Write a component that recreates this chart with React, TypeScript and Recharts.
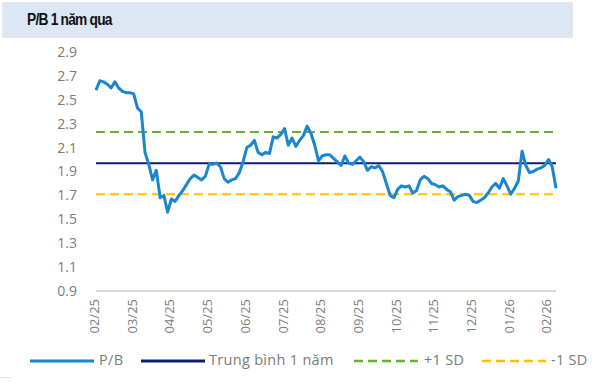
import * as React from 'react'
import { LineChart, Line, XAxis, YAxis, ReferenceLine } from 'recharts'

// P/B values, roughly two points per week, 02/2025 -> 02/2026
const pbValues = [
  2.58, 2.66, 2.65, 2.63, 2.60, 2.65, 2.60, 2.57, 2.56, 2.56,
  2.55, 2.43, 2.40, 2.06, 1.96, 1.83, 1.91, 1.68, 1.70, 1.56,
  1.67, 1.65, 1.70, 1.74, 1.79, 1.84, 1.87, 1.85, 1.83, 1.86,
  1.96, 1.96, 1.97, 1.94, 1.84, 1.81, 1.83, 1.84, 1.89, 1.98,
  2.10, 2.12, 2.16, 2.06, 2.04, 2.06, 2.05, 2.19, 2.18, 2.21,
  2.26, 2.12, 2.18, 2.11, 2.16, 2.20, 2.28, 2.22, 2.12, 1.99,
  2.03, 2.04, 2.04, 2.01, 1.98, 1.95, 2.03, 1.97, 1.96, 1.99,
  2.02, 1.98, 1.91, 1.94, 1.93, 1.95, 1.90, 1.80, 1.70, 1.68,
  1.75, 1.78, 1.77, 1.78, 1.72, 1.74, 1.83, 1.86, 1.84, 1.80,
  1.79, 1.77, 1.78, 1.75, 1.73, 1.66, 1.69, 1.70, 1.71, 1.70,
  1.65, 1.64, 1.66, 1.68, 1.72, 1.77, 1.80, 1.76, 1.84, 1.78,
  1.71, 1.76, 1.82, 2.07, 1.95, 1.89, 1.90, 1.92, 1.93, 1.95,
  2.00, 1.94, 1.76
]

const xTickIdx = [0, 10, 20, 30, 40, 50, 60, 70, 80, 90, 100, 110, 120]
const xTickLabels = ['02/25', '03/25', '04/25', '05/25', '06/25', '07/25', '08/25', '09/25', '10/25', '11/25', '12/25', '01/26', '02/26']
const yTicks = [0.9, 1.1, 1.3, 1.5, 1.7, 1.9, 2.1, 2.3, 2.5, 2.7, 2.9]

const AVG_1Y = 1.97
const PLUS_1SD = 2.23
const MINUS_1SD = 1.71

const C_PB = '#1a86cf'
const C_AVG = '#0d1f6b'
const C_UP = '#6aad3d'
const C_DOWN = '#ffc000'
const C_TEXT = '#7b7b7b'
const FONT = "'Open Sans', 'Noto Sans', sans-serif"

const rows = pbValues.map((v, i) => ({ i, pb: v }))

const XTick = ({ x, y, payload }: any) => {
  const k = xTickIdx.indexOf(payload.value)
  const tx = x - 2
  return (
    <text x={tx} y={y} transform={`rotate(-90 ${tx} ${y})`} textAnchor="end" dominantBaseline="central"
      fill={C_TEXT} fontSize={13} fontFamily={FONT}>
      {k >= 0 ? xTickLabels[k] : ''}
    </text>
  )
}

// legend: symbol start x, text start x
const legendItems = [
  { label: 'P/B', color: C_PB, dash: undefined, w: 3, x: 30, tx: 99 },
  { label: 'Trung bình 1 năm', color: C_AVG, dash: undefined, w: 3, x: 141, tx: 209 },
  { label: '+1 SD', color: C_UP, dash: '9 5', w: 2.5, x: 354, tx: 424 },
  { label: '-1 SD', color: C_DOWN, dash: '9 5', w: 2.5, x: 482, tx: 551 },
]

export default function App() {
  return (
    <div style={{ position: 'absolute', left: 0, top: 0, width: 599, height: 391, background: '#fff', overflow: 'hidden' }}>
      <div style={{ position: 'absolute', left: 2, top: 2, width: 571, height: 36, background: '#dce7f3' }} />
      <div style={{
        position: 'absolute', left: 27, top: 11, fontFamily: "'Liberation Sans', Arial, sans-serif",
        fontWeight: 700, fontSize: 16, letterSpacing: -0.9, color: '#111',
        transform: 'scaleX(0.86)', transformOrigin: 'left center', whiteSpace: 'nowrap'
      }}>P/B 1 năm qua</div>

      <div style={{ position: 'absolute', left: 0, top: 0 }}>
        <LineChart width={599} height={391} data={rows} margin={{ top: 52, right: 43, left: 0, bottom: 60 }}>
          <XAxis dataKey="i" type="number" domain={[0, 122]} ticks={xTickIdx} interval={0}
            tick={<XTick />} tickLine={false} axisLine={{ stroke: '#d9d9d9', strokeWidth: 2 }} height={40} />
          <YAxis type="number" domain={[0.9, 2.9]} ticks={yTicks} interval={0} width={96}
            tickFormatter={(v: number) => v.toFixed(1)} tickLine={false} axisLine={false} tickMargin={13}
            tick={{ fill: C_TEXT, fontSize: 14, fontFamily: FONT }} />
          <ReferenceLine y={PLUS_1SD} stroke={C_UP} strokeWidth={2} strokeDasharray="9 5" />
          <ReferenceLine y={MINUS_1SD} stroke={C_DOWN} strokeWidth={2} strokeDasharray="9 5" />
          <ReferenceLine y={AVG_1Y} stroke={C_AVG} strokeWidth={2} />
          <Line dataKey="pb" stroke={C_PB} strokeWidth={3} dot={false} isAnimationActive={false} strokeLinejoin="round" />
        </LineChart>
      </div>

      {legendItems.map(item => (
        <React.Fragment key={item.label}>
          <svg style={{ position: 'absolute', left: item.x, top: 358 }} width={64} height={6}>
            <line x1={0} y1={3} x2={64} y2={3} stroke={item.color} strokeWidth={item.w} strokeDasharray={item.dash} />
          </svg>
          <span style={{
            position: 'absolute', left: item.tx, top: 350, fontFamily: FONT, fontSize: 14.5,
            letterSpacing: 0.3, color: C_TEXT, whiteSpace: 'nowrap'
          }}>{item.label}</span>
        </React.Fragment>
      ))}
      <div style={{ position: 'absolute', left: 0, top: 377, width: 12, height: 1, background: '#dfe6ee' }} />
    </div>
  )
}
